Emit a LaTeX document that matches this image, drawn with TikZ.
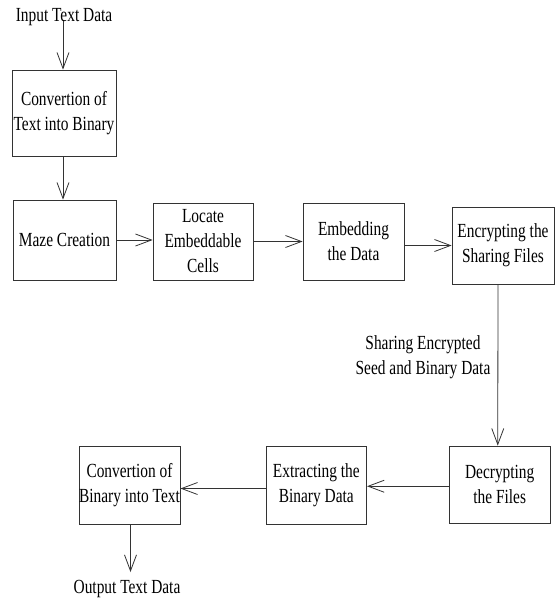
\documentclass[tikz,border=0pt]{standalone}
\usepackage{fontspec}
\setmainfont{Liberation Serif}[FakeStretch=0.77]
\usetikzlibrary{arrows.meta}
\begin{document}
\begin{tikzpicture}[x=1pt,y=-1pt,
  box/.style={draw=black!80,line width=0.8pt,align=center,inner sep=0pt,
    font=\fontsize{20}{25}\selectfont},
  txt/.style={align=center,inner sep=0pt,font=\fontsize{20}{25}\selectfont},
  arr/.style={draw=black!80,line width=0.8pt,-{Straight Barb[length=16pt,width=12pt,line width=0.8pt]}}]
\useasboundingbox (0,0) rectangle (555,598);
\node[txt] (in) at (64,17) {Input Text Data};
\node[box,minimum width=104pt,minimum height=86pt] (b1) at (64,113) {Convertion of\\Text into Binary};
\node[box,minimum width=103pt,minimum height=80pt] (b2) at (64.5,240) {Maze Creation};
\node[box,minimum width=100pt,minimum height=77pt] (b3) at (203,241.5) {Locate\\Embeddable\\Cells};
\node[box,minimum width=101pt,minimum height=77pt] (b4) at (353.5,241.5) {Embedding\\the Data};
\node[box,minimum width=102pt,minimum height=77pt] (b5) at (503,245.5) {Encrypting the\\Sharing Files};
\node[box,minimum width=100.5pt,minimum height=77.5pt] (b6) at (499.75,484.75) {Decrypting\\the Files};
\node[box,minimum width=100.7pt,minimum height=77.6pt] (b7) at (316.3,485.5) {Extracting the\\Binary Data};
\node[box,minimum width=101pt,minimum height=77.6pt] (b8) at (129.5,485.5) {Convertion of\\Binary into Text};
\node[txt] (lab) at (423,357.5) {Sharing Encrypted\\Seed and Binary Data};
\node[txt] (out) at (127,589) {Output Text Data};
\coordinate (inend) at (63,21);
\draw[arr] (inend) -- (inend |- b1.north);
\draw[arr] ([xshift=-1pt]b1.south) -- ([xshift=-1.5pt]b2.north);
\draw[arr] (b2.east) -- (b2.east -| b3.west);
\draw[arr] (b3.east) -- (b4.west);
\draw[arr] (b4.east |- b5.west) -- (b5.west);
\draw[arr] ([xshift=-5pt]b5.south) -- ([xshift=-2pt]b6.north);
\draw[arr] ([yshift=-1.5pt]b6.west) -- ([yshift=-1.5pt]b6.west -| b7.east);
\draw[arr] ([yshift=-3pt]b7.west) -- ([yshift=-3pt]b7.west -| b8.east);
\draw[arr] ([xshift=1pt]b8.south) -- ([xshift=1pt]b8.south |- 0,572);
\end{tikzpicture}
\end{document}
